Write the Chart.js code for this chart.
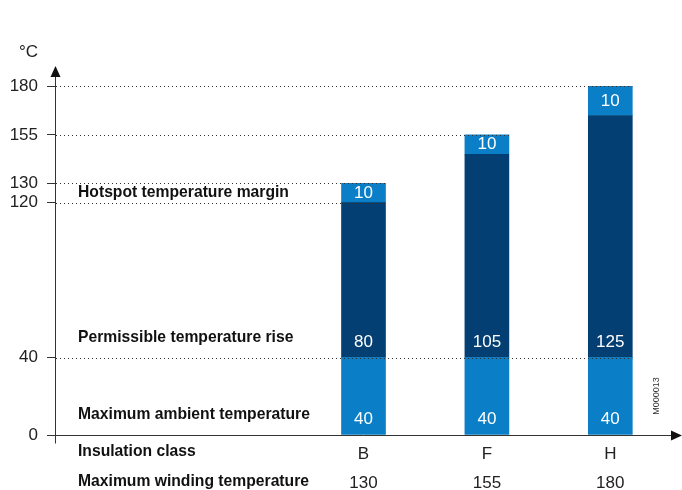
<!DOCTYPE html>
<html>
<head>
<meta charset="utf-8">
<script src="https://cdn.jsdelivr.net/npm/chart.js@4/dist/chart.umd.min.js"></script>
<style>
html,body{margin:0;padding:0;background:#fff;}
#wrap{width:682px;height:490px;position:relative;}
</style>
</head>
<body>
<div id="wrap"><canvas id="c" width="682" height="490"></canvas></div>
<script>
const categories = ['B', 'F', 'H'];
const ambientTemp = [40, 40, 40];
const permissibleRise = [80, 105, 125];
const hotspotMargin = [10, 10, 10];
const windingTemp = [130, 155, 180];
const yTickValues = [0, 40, 120, 130, 155, 180];
const rowTitles = ['Maximum ambient temperature', 'Permissible temperature rise', 'Hotspot temperature margin'];
const axisRowTitles = ['Insulation class', 'Maximum winding temperature'];
const unitLabel = '°C';
const figureCode = 'M000013';
const blankSlots = 2;

const LIGHT = '#0a7fc8';
const DARK = '#033f73';
const INK = '#222';
const FONT = '"Liberation Sans", Arial, Helvetica, sans-serif';

const pad = arr => Array(blankSlots).fill(null).concat(arr);
const xLabels = Array(blankSlots).fill('').concat(categories);
// the top (margin) segment is drawn up to the maximum winding temperature
const marginDrawn = windingTemp.map((w, j) => w - ambientTemp[j] - permissibleRise[j]);

const decor = {
  id: 'decor',
  afterDatasetsDraw(chart) {
    const ctx = chart.ctx;
    const ca = chart.chartArea;
    const y = chart.scales.y;
    const metas = [0, 1, 2].map(i => chart.getDatasetMeta(i));
    const n = categories.length;

    // dotted reference lines
    ctx.save();
    ctx.strokeStyle = '#333';
    ctx.lineWidth = 1;
    ctx.setLineDash([1, 3]);
    yTickValues.forEach(v => {
      if (v === 0) return;
      let last = -1;
      for (let j = 0; j < n; j++) {
        const b1 = ambientTemp[j], b2 = b1 + permissibleRise[j], b3 = windingTemp[j];
        if (v === b1 || v === b2 || v === b3) last = j;
      }
      if (last < 0) return;
      const el = metas[0].data[last + blankSlots];
      const xEnd = el.x + el.width / 2;
      const py = Math.round(y.getPixelForValue(v)) + 0.5;
      ctx.beginPath();
      ctx.moveTo(ca.left + 1, py);
      ctx.lineTo(xEnd, py);
      ctx.stroke();
    });
    ctx.restore();

    const labelY = (el, d) => d === 2 ? (el.y + el.base) / 2 : el.base - 15;

    // value labels in bars
    ctx.save();
    ctx.fillStyle = '#fff';
    ctx.font = '17px ' + FONT;
    ctx.textAlign = 'center';
    ctx.textBaseline = 'middle';
    const sets = [ambientTemp, permissibleRise, hotspotMargin];
    metas.forEach((m, d) => {
      for (let j = 0; j < n; j++) {
        const el = m.data[j + blankSlots];
        ctx.fillText(String(sets[d][j]), el.x, labelY(el, d));
      }
    });
    ctx.restore();

    // row titles on the left
    ctx.save();
    ctx.fillStyle = '#111';
    ctx.font = 'bold 15.7px ' + FONT;
    ctx.textAlign = 'left';
    ctx.textBaseline = 'middle';
    metas.forEach((m, d) => {
      const el = m.data[blankSlots];
      ctx.fillText(rowTitles[d], 78, d === 2 ? labelY(el, d) : labelY(el, d) - 5);
    });
    axisRowTitles.forEach((t, k) => {
      ctx.fillText(t, 78, ca.bottom + 17 + k * 30);
    });
    ctx.restore();
  },
  afterDraw(chart) {
    const ctx = chart.ctx;
    const ca = chart.chartArea;
    const x0 = Math.round(ca.left) + 0.5;
    const yb = Math.round(ca.bottom) + 0.5;
    ctx.save();
    ctx.strokeStyle = '#333';
    ctx.fillStyle = '#111';
    ctx.lineWidth = 1;
    // y axis
    ctx.beginPath();
    ctx.moveTo(x0, yb + 8);
    ctx.lineTo(x0, ca.top + 4);
    ctx.stroke();
    ctx.beginPath();
    ctx.moveTo(x0, ca.top - 3);
    ctx.lineTo(x0 - 5, ca.top + 8);
    ctx.lineTo(x0 + 5, ca.top + 8);
    ctx.closePath();
    ctx.fill();
    // x axis
    ctx.beginPath();
    ctx.moveTo(x0, yb);
    ctx.lineTo(672, yb);
    ctx.stroke();
    ctx.beginPath();
    ctx.moveTo(682, yb);
    ctx.lineTo(671, yb - 5);
    ctx.lineTo(671, yb + 5);
    ctx.closePath();
    ctx.fill();
    // unit
    ctx.fillStyle = INK;
    ctx.font = '17px ' + FONT;
    ctx.textAlign = 'right';
    ctx.textBaseline = 'middle';
    ctx.fillText(unitLabel, 38, 52);
    // figure code
    ctx.translate(657, 396);
    ctx.rotate(-Math.PI / 2);
    ctx.font = '9px ' + FONT;
    ctx.textAlign = 'center';
    ctx.fillStyle = '#333';
    ctx.fillText(figureCode, 0, 0);
    ctx.restore();
  }
};

new Chart(document.getElementById('c'), {
  type: 'bar',
  data: {
    labels: xLabels,
    datasets: [
      { label: rowTitles[0], data: pad(ambientTemp), backgroundColor: LIGHT },
      { label: rowTitles[1], data: pad(permissibleRise), backgroundColor: DARK },
      { label: rowTitles[2], data: pad(marginDrawn), backgroundColor: LIGHT }
    ]
  },
  options: {
    responsive: false,
    animation: false,
    devicePixelRatio: 1,
    layout: { padding: { top: 69, right: 10, left: 0, bottom: 0 } },
    datasets: { bar: { barThickness: 44, borderWidth: 0 } },
    plugins: { legend: { display: false }, tooltip: { enabled: false } },
    scales: {
      x: {
        stacked: true,
        grid: { display: false, drawTicks: false },
        border: { display: false },
        afterFit(s) { s.height = 55; },
        ticks: {
          autoSkip: false,
          maxRotation: 0,
          padding: 5,
          color: INK,
          font: { size: 17, family: FONT, lineHeight: 1.7 },
          callback(v, i) {
            const j = i - blankSlots;
            return j >= 0 ? [categories[j], String(windingTemp[j])] : '';
          }
        }
      },
      y: {
        stacked: true,
        min: 0,
        max: 189,
        afterFit(s) { s.width = 55; },
        afterBuildTicks(s) { s.ticks = yTickValues.map(v => ({ value: v })); },
        grid: { drawOnChartArea: false, drawTicks: true, tickLength: 8, color: '#333' },
        border: { display: false },
        ticks: {
          padding: 9,
          color: INK,
          font: { size: 17, family: FONT },
          autoSkip: false
        }
      }
    }
  },
  plugins: [decor]
});
</script>
</body>
</html>
